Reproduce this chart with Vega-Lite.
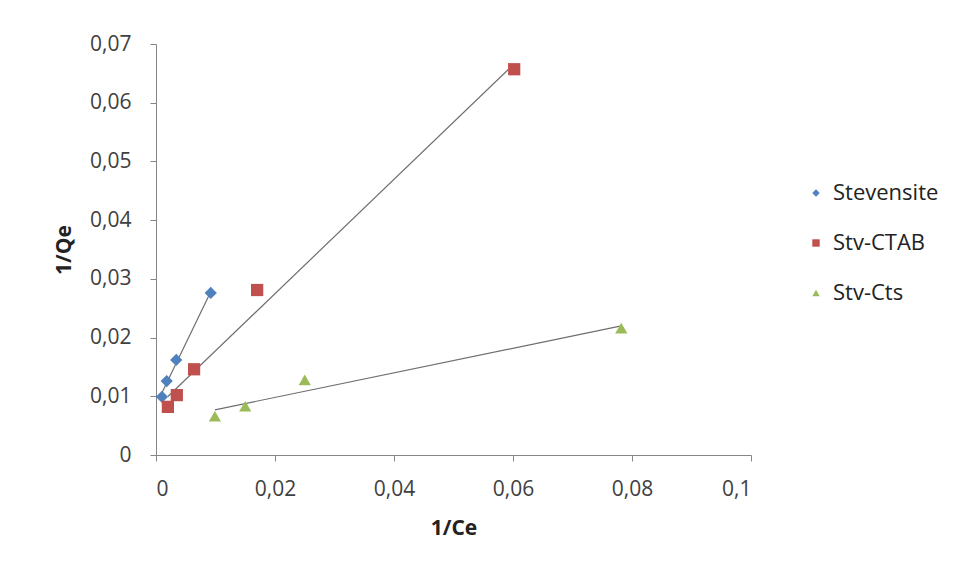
{
  "$schema": "https://vega.github.io/schema/vega-lite/v6.json",
  "autosize": {"type": "none"},
  "padding": {"left": 156, "top": 44, "right": 207, "bottom": 113},
  "width": 595,
  "height": 411,
  "background": "white",
  "config": {
    "view": {"stroke": null},
    "font": "Open Sans",
    "axis": {
      "grid": false,
      "domainColor": "#868686",
      "tickColor": "#868686",
      "labelFont": "Open Sans",
      "labelFontSize": 21,
      "labelColor": "#404040",
      "titleFont": "Open Sans",
      "titleFontSize": 21,
      "titleFontWeight": "bold",
      "titleColor": "#222222"
    }
  },
  "data": {
    "values": [
      {"series": "Stevensite", "x": 0.001, "y": 0.0099},
      {"series": "Stevensite", "x": 0.0018, "y": 0.0126},
      {"series": "Stevensite", "x": 0.0034, "y": 0.0162},
      {"series": "Stevensite", "x": 0.0092, "y": 0.0276},
      {"series": "Stv-CTAB", "x": 0.002, "y": 0.0082},
      {"series": "Stv-CTAB", "x": 0.0035, "y": 0.0102},
      {"series": "Stv-CTAB", "x": 0.0064, "y": 0.0146},
      {"series": "Stv-CTAB", "x": 0.017, "y": 0.0281},
      {"series": "Stv-CTAB", "x": 0.0602, "y": 0.0657},
      {"series": "Stv-Cts", "x": 0.0099, "y": 0.0066},
      {"series": "Stv-Cts", "x": 0.015, "y": 0.0083},
      {"series": "Stv-Cts", "x": 0.025, "y": 0.0128},
      {"series": "Stv-Cts", "x": 0.0782, "y": 0.0216}
    ]
  },
  "layer": [
    {
      "transform": [{"regression": "y", "on": "x", "groupby": ["series"]}],
      "mark": {"type": "line", "color": "#6e6e6e", "strokeWidth": 1.2},
      "encoding": {
        "x": {"field": "x", "type": "quantitative"},
        "y": {"field": "y", "type": "quantitative"},
        "detail": {"field": "series"}
      }
    },
    {
      "mark": {"type": "point", "filled": true, "opacity": 1},
      "encoding": {
        "x": {
          "field": "x", "type": "quantitative", "title": "1/Ce",
          "scale": {"domain": [0, 0.1], "nice": false, "zero": true},
          "axis": {"values": [0, 0.02, 0.04, 0.06, 0.08, 0.1], "tickSize": 6, "labelPadding": 17, "titlePadding": 18,
                   "labelExpr": "replace(format(datum.value, '~g'), '.', ',')"}
        },
        "y": {
          "field": "y", "type": "quantitative", "title": "1/Qe",
          "scale": {"domain": [0, 0.07], "nice": false},
          "axis": {"values": [0, 0.01, 0.02, 0.03, 0.04, 0.05, 0.06, 0.07], "tickSize": 6, "labelPadding": 19, "titlePadding": 15,
                   "labelExpr": "replace(format(datum.value, '~g'), '.', ',')"}
        },
        "color": {
          "field": "series", "type": "nominal",
          "scale": {"domain": ["Stevensite", "Stv-CTAB", "Stv-Cts"], "range": ["#4F81BD", "#C0504D", "#9BBB59"]},
          "legend": {
            "title": null, "orient": "none", "legendX": 649, "legendY": 138,
            "labelFont": "Open Sans", "labelFontSize": 22, "labelColor": "#222222",
            "rowPadding": 28, "symbolSize": 55, "symbolOffset": 0, "labelOffset": 6
          }
        },
        "shape": {
          "field": "series", "type": "nominal",
          "scale": {"domain": ["Stevensite", "Stv-CTAB", "Stv-Cts"], "range": ["diamond", "square", "triangle-up"]},
          "legend": null
        },
        "size": {"value": 150}
      }
    }
  ]
}
